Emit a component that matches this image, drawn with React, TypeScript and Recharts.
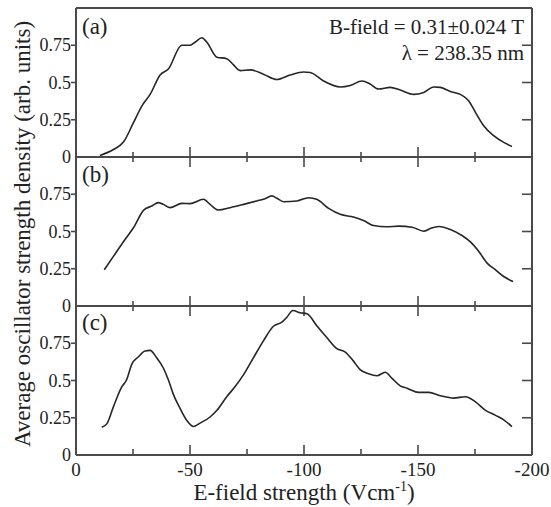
import React from 'react';
import { LineChart, Line, XAxis, YAxis, ReferenceLine } from 'recharts';

const W = 551;
const H = 507;
const FONT = '"Liberation Serif", "DejaVu Serif", "Times New Roman", serif';
const FRAME = '#4a4a4a';
const CURVE = '#262626';

// ---- axis ticks ----
const xTicks = [0, -25, -50, -75, -100, -125, -150, -175, -200];
const xMajorTicks = [0, -50, -100, -150, -200];
const xTickLabels = ['0', '-50', '-100', '-150', '-200'];
const yTicksLeft = [0, 0.25, 0.5, 0.75];
const yTickLabels = ['0', '0.25', '0.5', '0.75'];
const yTicksRight = [0.25, 0.5, 0.75];
const panelLabels = ['(a)', '(b)', '(c)'];

// ---- panel (a) ----
const fieldA = [-10.5, -16.4, -20.8, -25.2, -28.8, -32.5, -36.9, -40.5, -46.4, -50, -52.2, -55.2, -57.4, -61.8, -66.1, -69, -72, -76.4, -82.2, -88.1, -93.9, -99.8, -102.7, -108.6, -115.9, -120.3, -125.4, -129, -132.7, -137.8, -142.2, -148.1, -152.5, -156.9, -159.8, -164.2, -168.6, -172.2, -175.2, -178.8, -183.2, -187.6, -191.2];
const strengthA = [0.01, 0.05, 0.1, 0.23, 0.34, 0.42, 0.55, 0.59, 0.75, 0.75, 0.77, 0.8, 0.77, 0.67, 0.66, 0.62, 0.58, 0.585, 0.556, 0.52, 0.55, 0.57, 0.567, 0.51, 0.47, 0.48, 0.51, 0.49, 0.456, 0.467, 0.449, 0.42, 0.433, 0.47, 0.467, 0.44, 0.42, 0.378, 0.3, 0.21, 0.143, 0.098, 0.071];

// ---- panel (b) ----
const fieldB = [-12.4, -16.4, -21.5, -25.2, -29.6, -33.2, -36.1, -38.3, -41.3, -46.4, -50, -55.9, -58.8, -62.5, -67.6, -73.5, -79.3, -82.9, -85.9, -88.1, -91, -96.9, -102, -105.6, -110.8, -115.9, -121.7, -126.1, -130.5, -136.4, -141.5, -147.4, -152.5, -155.4, -159.1, -164.2, -169.3, -173, -176.6, -180.3, -184, -187.6, -191.7];
const strengthB = [0.243, 0.333, 0.446, 0.525, 0.642, 0.671, 0.694, 0.682, 0.66, 0.689, 0.687, 0.716, 0.682, 0.644, 0.66, 0.682, 0.705, 0.72, 0.739, 0.723, 0.7, 0.705, 0.727, 0.716, 0.655, 0.615, 0.597, 0.574, 0.54, 0.532, 0.536, 0.529, 0.502, 0.52, 0.534, 0.514, 0.473, 0.43, 0.367, 0.288, 0.243, 0.198, 0.164];

// ---- panel (c) ----
const fieldC = [-11.3, -13.5, -16.4, -20, -22.2, -24.4, -27.4, -30.3, -32.5, -35.4, -38.3, -40.5, -42.7, -45.7, -48.6, -51.5, -54.4, -58.8, -61.8, -66.1, -69.8, -73.5, -77.8, -82.2, -86.6, -90.3, -92.5, -95.1, -98.3, -101.3, -105.6, -110, -114.4, -118.1, -121.7, -124.6, -128.3, -132, -135.6, -138.5, -142.2, -145.2, -150.3, -154.7, -159.8, -165.6, -170.8, -175.2, -179.6, -184, -187.6, -191.2];
const strengthC = [0.186, 0.209, 0.323, 0.455, 0.505, 0.607, 0.659, 0.698, 0.702, 0.652, 0.584, 0.505, 0.407, 0.311, 0.232, 0.191, 0.214, 0.255, 0.3, 0.391, 0.459, 0.539, 0.652, 0.766, 0.864, 0.891, 0.925, 0.97, 0.955, 0.948, 0.868, 0.789, 0.714, 0.691, 0.63, 0.573, 0.545, 0.532, 0.555, 0.516, 0.464, 0.448, 0.42, 0.42, 0.398, 0.382, 0.391, 0.357, 0.3, 0.266, 0.236, 0.191];

const build = (xs: number[], ys: number[]) => xs.map((x, i) => ({ x, y: ys[i] }));
const dataA = build(fieldA, strengthA);
const dataB = build(fieldB, strengthB);
const dataC = build(fieldC, strengthC);

const isMajor = (v: number) => xMajorTicks.indexOf(v) >= 0;

const XTickBoth = (p: any) => {
  const v = p.payload.value;
  if (v === 0 || v === -200) return <g />;
  const h = isMajor(v) ? 10 : 5;
  return <line x1={p.x} x2={p.x} y1={p.y - h} y2={p.y + h} stroke={FRAME} strokeWidth={1.6} />;
};

const XTickBottom = (p: any) => {
  const v = p.payload.value;
  const major = isMajor(v);
  const h = major ? 10 : 6;
  const idx = xMajorTicks.indexOf(v);
  return (
    <g>
      {v !== 0 && v !== -200 && (
        <line x1={p.x} x2={p.x} y1={p.y - h} y2={p.y} stroke={FRAME} strokeWidth={1.6} />
      )}
      {major && (
        <text x={p.x} y={p.y + 21} textAnchor="middle" fontFamily={FONT} fontSize={19} fill="#222">
          {xTickLabels[idx]}
        </text>
      )}
    </g>
  );
};

const YTickLeft = (p: any) => {
  const v = p.payload.value;
  const idx = yTicksLeft.indexOf(v);
  return (
    <g>
      {v !== 0 && <line x1={p.x - 5} x2={p.x} y1={p.y} y2={p.y} stroke={FRAME} strokeWidth={1.6} />}
      <text x={p.x - 5} y={p.y} dy="0.34em" textAnchor="end" fontFamily={FONT} fontSize={18} fill="#222">
        {yTickLabels[idx]}
      </text>
    </g>
  );
};

const YTickRight = (p: any) => (
  <line x1={p.x - 10} x2={p.x} y1={p.y} y2={p.y} stroke={FRAME} strokeWidth={1.6} />
);

type PanelProps = { data: { x: number; y: number }[]; top: number; bottom: number; last: boolean; first: boolean };

const Panel = ({ data, top, bottom, last, first }: PanelProps) => (
  <div style={{ position: 'absolute', left: 0, top: 0 }}>
    <LineChart width={W} height={H} data={data} margin={{ top, right: 18, bottom: H - bottom - 1, left: 75 }}>
      <XAxis
        type="number"
        dataKey="x"
        domain={[-200, 0]}
        reversed
        allowDataOverflow
        ticks={xTicks}
        interval={0}
        tickSize={0}
        tickMargin={0}
        height={1}
        tickLine={false}
        axisLine={{ stroke: FRAME, strokeWidth: 2 }}
        tick={(p: any) => (last ? <XTickBottom {...p} /> : <XTickBoth {...p} />)}
      />
      <YAxis
        yAxisId="l"
        type="number"
        domain={[0, 1]}
        allowDataOverflow
        ticks={yTicksLeft}
        interval={0}
        tickSize={0}
        tickMargin={0}
        width={1}
        tickLine={false}
        axisLine={{ stroke: FRAME, strokeWidth: 2 }}
        tick={(p: any) => <YTickLeft {...p} />}
      />
      <YAxis
        yAxisId="r"
        orientation="right"
        type="number"
        domain={[0, 1]}
        allowDataOverflow
        ticks={yTicksRight}
        interval={0}
        tickSize={0}
        tickMargin={0}
        width={1}
        tickLine={false}
        axisLine={{ stroke: FRAME, strokeWidth: 2 }}
        tick={(p: any) => <YTickRight {...p} />}
      />
      {first && <ReferenceLine yAxisId="l" y={1} stroke={FRAME} strokeWidth={2} />}
      <Line
        yAxisId="l"
        type="monotone"
        dataKey="y"
        stroke={CURVE}
        strokeWidth={1.6}
        dot={false}
        isAnimationActive={false}
      />
    </LineChart>
  </div>
);

export default function App() {
  return (
    <div style={{ position: 'absolute', left: 0, top: 0, width: W, height: H, background: '#fff', overflow: 'hidden' }}>
      <Panel data={dataA} top={8} bottom={157} first last={false} />
      <Panel data={dataB} top={157} bottom={306} first={false} last={false} />
      <Panel data={dataC} top={306} bottom={455} first={false} last />
      <svg width={W} height={H} style={{ position: 'absolute', left: 0, top: 0, pointerEvents: 'none' }}>
        <g fontFamily={FONT} fill="#222">
          <text x={82} y={34} fontSize={23}>{panelLabels[0]}</text>
          <text x={82} y={181.5} fontSize={23}>{panelLabels[1]}</text>
          <text x={82} y={330} fontSize={23}>{panelLabels[2]}</text>
          <text x={524} y={34} fontSize={21} textAnchor="end">B-field = 0.31±0.024 T</text>
          <text x={524} y={60} fontSize={21} textAnchor="end">λ = 238.35 nm</text>
          <text x={304} y={500} fontSize={23} textAnchor="middle">
            E-field strength (Vcm
            <tspan fontSize={14} dy={-9}>-1</tspan>
            <tspan dy={9}>)</tspan>
          </text>
          <text x={30} y={234} fontSize={23} textAnchor="middle" transform="rotate(-90 30 234)">
            Average oscillator strength density (arb. units)
          </text>
        </g>
      </svg>
    </div>
  );
}
